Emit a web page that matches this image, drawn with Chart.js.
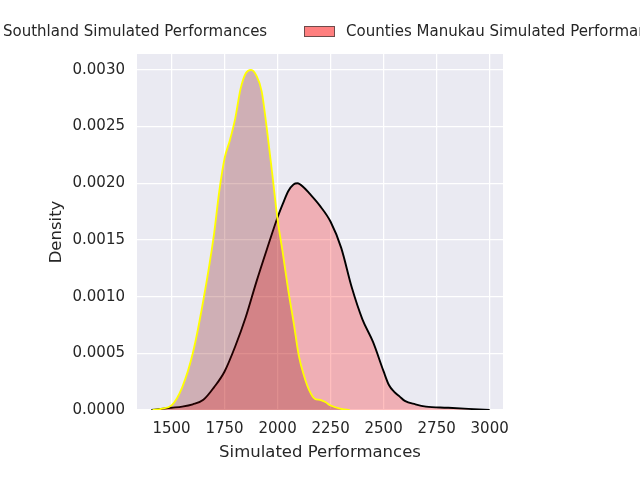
<!DOCTYPE html>
<html>
<head>
<meta charset="utf-8">
<script src="https://cdn.jsdelivr.net/npm/chart.js@4/dist/chart.umd.min.js"></script>
<style>
  body { margin: 0; background: #fff; }
</style>
</head>
<body>
<canvas id="chart" width="640" height="480"></canvas>
<script>
// density curves
var southlandX = [1410, 1450, 1500, 1550, 1600, 1650, 1700, 1725, 1750, 1775, 1800, 1825, 1850, 1875, 1900, 1925, 1950, 1975, 2000, 2025, 2050, 2075, 2100, 2125, 2150, 2175, 2200, 2225, 2250, 2300, 2340];
var southlandDensity = [0, 0.00001, 0.00004, 0.0002, 0.0005, 0.00097, 0.00155, 0.00193, 0.00222, 0.00238, 0.00257, 0.00283, 0.00297, 0.003, 0.00295, 0.00281, 0.00247, 0.00208, 0.00168, 0.00138, 0.00106, 0.00078, 0.00048, 0.0003, 0.00017, 0.0001, 0.00009, 0.00007, 0.00004, 0.00001, 0];

var countiesX = [1405, 1450, 1500, 1550, 1600, 1650, 1700, 1750, 1800, 1850, 1900, 1950, 2000, 2025, 2050, 2075, 2094, 2125, 2150, 2200, 2250, 2300, 2350, 2400, 2450, 2500, 2525, 2550, 2575, 2600, 2650, 2700, 2800, 2900, 3000];
var countiesDensity = [0, 0.00001, 0.00002, 0.00003, 0.00005, 0.00009, 0.0002, 0.00034, 0.00056, 0.00082, 0.00113, 0.00142, 0.0017, 0.00182, 0.00193, 0.00199, 0.002, 0.00196, 0.00191, 0.0018, 0.00166, 0.00143, 0.00108, 0.0008, 0.0006, 0.00034, 0.00022, 0.00016, 0.00012, 0.00008, 0.00005, 0.00003, 0.00002, 0.00001, 0];

var xTicks = [1500, 1750, 2000, 2250, 2500, 2750, 3000];
var yTicks = [0, 0.0005, 0.001, 0.0015, 0.002, 0.0025, 0.003];
var seriesNames = ["Southland Simulated Performances", "Counties Manukau Simulated Performances"];

var FONT = "DejaVu Sans";
var TEXT = "#262626";

function toPoints(xs, ys) {
    var pts = [];
    for (var i = 0; i < xs.length; i++) {
        pts.push({x: xs[i], y: ys[i]});
    }
    return pts;
}

// grey plot background like seaborn darkgrid
var bgPlugin = {
    id: "bg",
    beforeDraw: function (chart) {
        var ctx = chart.ctx, a = chart.chartArea;
        ctx.save();
        ctx.fillStyle = "#fff";
        ctx.fillRect(0, 0, chart.width, chart.height);
        ctx.fillStyle = "#EAEAF2";
        ctx.fillRect(a.left, a.top, a.right - a.left, a.bottom - a.top);
        ctx.restore();
    }
};

// legend overflows the figure on both sides in the original
var legendPlugin = {
    id: "wideLegend",
    afterDraw: function (chart) {
        var ctx = chart.ctx;
        ctx.save();
        ctx.font = "15px '" + FONT + "'";
        ctx.textBaseline = "middle";
        ctx.fillStyle = TEXT;
        ctx.fillText(seriesNames[0], 3, 32);
        ctx.fillStyle = "rgba(255,0,0,0.5)";
        ctx.fillRect(304, 26, 31, 11);
        ctx.strokeStyle = "#6e4b4b";
        ctx.lineWidth = 1;
        ctx.strokeRect(304.5, 26.5, 30, 10);
        ctx.fillStyle = TEXT;
        ctx.fillText(seriesNames[1], 346, 32);
        ctx.restore();
    }
};

new Chart(document.getElementById("chart"), {
    type: "line",
    data: {
        datasets: [{
            label: seriesNames[0],
            data: toPoints(southlandX, southlandDensity),
            borderColor: "yellow",
            backgroundColor: "rgba(128,0,0,0.25)",
            borderWidth: 1.8,
            fill: "origin",
            cubicInterpolationMode: "monotone"
        }, {
            label: seriesNames[1],
            data: toPoints(countiesX, countiesDensity),
            borderColor: "#000",
            backgroundColor: "rgba(255,0,0,0.25)",
            borderWidth: 1.9,
            fill: "origin",
            cubicInterpolationMode: "monotone"
        }]
    },
    options: {
        responsive: false,
        animation: false,
        layout: {padding: {top: 54, right: 137, left: 0, bottom: 0}},
        elements: {point: {radius: 0}},
        plugins: {legend: {display: false}, tooltip: {enabled: false}},
        scales: {
            x: {
                type: "linear",
                min: 1337,
                max: 3063,
                afterBuildTicks: function (s) { s.ticks = xTicks.map(function (v) { return {value: v}; }); },
                afterFit: function (s) { s.height = 70; },
                grid: {color: "#fff", lineWidth: 1.25, drawTicks: false},
                border: {display: false},
                ticks: {padding: 10, color: TEXT, font: {family: FONT, size: 15}, maxRotation: 0,
                        callback: function (v) { return String(v); }},
                title: {display: true, text: "Simulated Performances", color: TEXT,
                        font: {family: FONT, size: 16.5}, padding: {top: 0, bottom: 17}}
            },
            y: {
                min: 0,
                max: 0.00314,
                afterBuildTicks: function (s) { s.ticks = yTicks.map(function (v) { return {value: v}; }); },
                afterFit: function (s) { s.width = 137; },
                grid: {color: "#fff", lineWidth: 1.25, drawTicks: false},
                border: {display: false},
                ticks: {padding: 12, color: TEXT, font: {family: FONT, size: 15},
                        callback: function (v) { return v.toFixed(4); }},
                title: {display: true, text: "Density", color: TEXT,
                        font: {family: FONT, size: 16.5}, padding: {top: 47, bottom: 0}}
            }
        }
    },
    plugins: [bgPlugin, legendPlugin]
});
</script>
</body>
</html>
